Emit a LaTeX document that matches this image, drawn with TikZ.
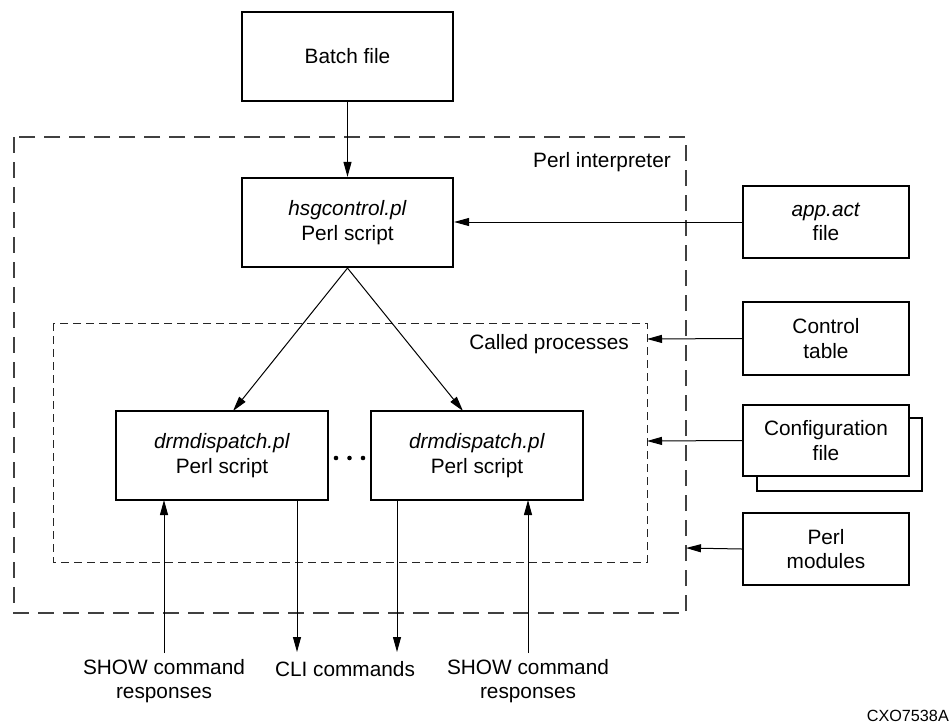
\documentclass[tikz,border=0pt]{standalone}
\usepackage{fontspec}
\setmainfont{Liberation Sans}
\usetikzlibrary{arrows.meta,calc}
\begin{document}
\begin{tikzpicture}[x=1pt,y=-1pt,
  every node/.style={font=\fontsize{20.8}{24.5}\selectfont, inner sep=0pt, align=center},
  box/.style={draw, line width=2.2pt, fill=white},
  arr/.style={line width=1pt, -{Triangle[length=15pt,width=8pt]}},
  outerdash/.style={draw=black!75, line width=1.2pt, dash pattern=on 16pt off 9pt},
  innerdash/.style={draw=black!85, line width=1pt, dash pattern=on 8pt off 5pt}]
\useasboundingbox (0,0) rectangle (949,725);
% dashed regions
\draw[outerdash] (14,137) rectangle (686,613);
\draw[innerdash] (53,323) rectangle (647,562);
\node[anchor=east] (perlint) at (671,162) {Perl interpreter};
\node[anchor=east] (called) at (629,344) {Called processes};
% boxes
\node[box, minimum width=211pt, minimum height=89pt] (batch) at (347.5,56.5) {Batch file};
\node[box, minimum width=211pt, minimum height=89pt] (hsg) at (347.5,222.5) {\textit{hsgcontrol.pl}\\Perl script};
\node[box, minimum width=166pt, minimum height=72pt] (app) at (826,222) {\textit{app.act}\\file};
\node[box, minimum width=166pt, minimum height=73pt] (ctrl) at (826,338.5) {Control\\table};
\node[box, minimum width=165pt, minimum height=73pt] (cfgback) at (839.5,454.5) {};
\node[box, minimum width=166pt, minimum height=71pt] (cfg) at (826,440.5) {Configuration\\file};
\node[box, minimum width=166pt, minimum height=72pt] (mods) at (826,549) {Perl\\modules};
\node[box, minimum width=212pt, minimum height=89pt] (drmA) at (222,455.5) {\textit{drmdispatch.pl}\\Perl script};
\node[box, minimum width=212pt, minimum height=89pt] (drmB) at (477,455.5) {\textit{drmdispatch.pl}\\Perl script};
% dots
\fill (336,458) circle (2.3pt) (349.5,458) circle (2.3pt) (363,458) circle (2.3pt);
% coordinates
\coordinate (inA) at (233,411);
\coordinate (inB) at (463,411);
\coordinate (ctrlEnd) at (647,339);
\coordinate (cfgEnd) at (647,441);
\coordinate (modsEnd) at (686,548);
\coordinate (showAtop) at (164,500);
\coordinate (showAbot) at (164,653);
\coordinate (cliAtop) at (297,500);
\coordinate (cliAbot) at (297,652);
\coordinate (cliBtop) at (397,500);
\coordinate (cliBbot) at (397,652);
\coordinate (showBtop) at (528,500);
\coordinate (showBbot) at (528,653);
% connectors
\draw[arr] (batch.south) -- (hsg.north);
\draw[arr] (app.west) -- (hsg.east |- app.west);
\draw[arr] (hsg.south) -- (inA);
\draw[arr] (hsg.south) -- (inB);
\draw[arr] (ctrl.west) -- (ctrlEnd);
\draw[arr] (cfg.west) -- (cfgEnd);
\draw[arr] (mods.west) -- (modsEnd);
\draw[arr] (showAbot) -- (showAtop);
\draw[arr] (cliAtop) -- (cliAbot);
\draw[arr] (cliBtop) -- (cliBbot);
\draw[arr] (showBbot) -- (showBtop);
% bottom labels
\node (showA) at (164,681) {SHOW command\\responses};
\node (cli) at (345,669) {CLI commands};
\node (showB) at (528,681) {SHOW command\\responses};
\node[anchor=east, font=\fontsize{16.2}{19}\selectfont] (fig) at (949,716) {CXO7538A};
\end{tikzpicture}
\end{document}
